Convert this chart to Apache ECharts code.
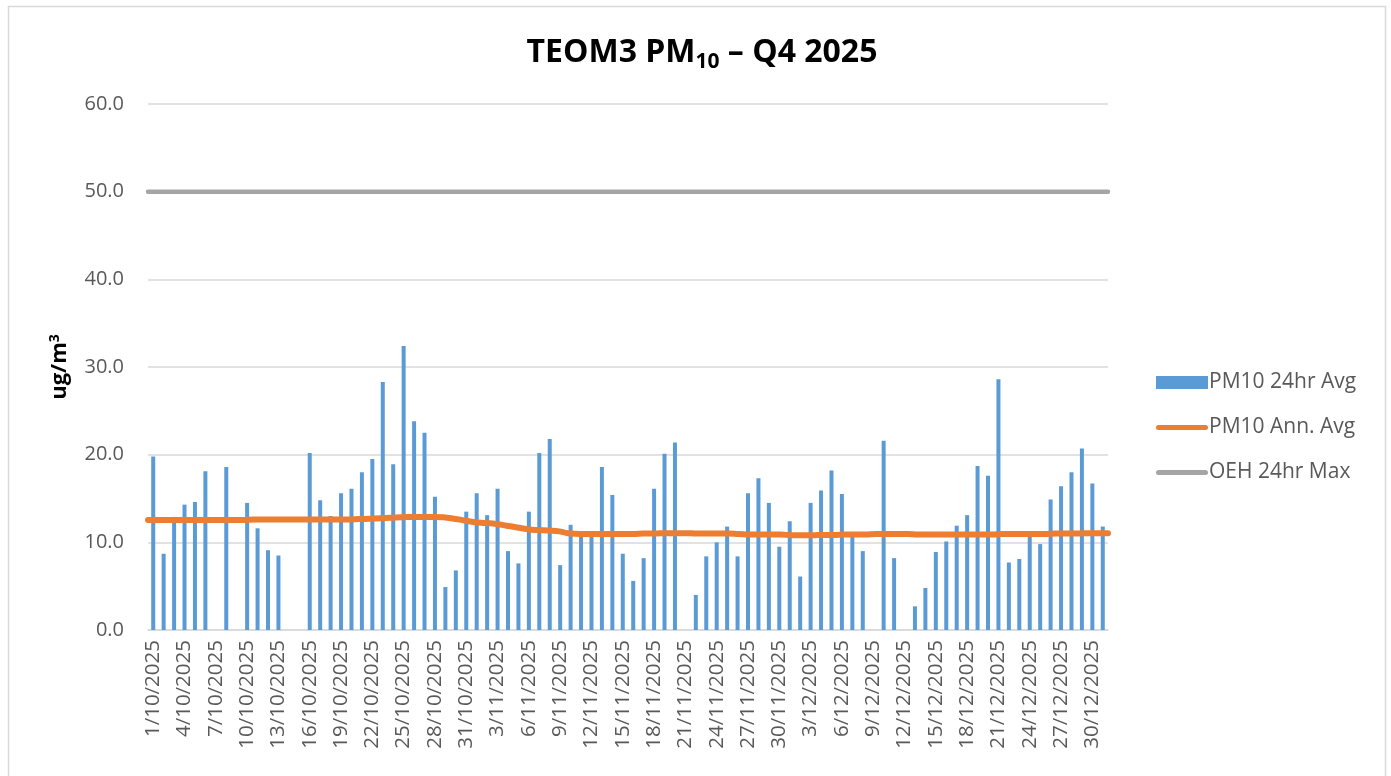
<!DOCTYPE html>
<html>
<head>
<meta charset="utf-8">
<script src="https://cdn.jsdelivr.net/npm/echarts@6/dist/echarts.min.js"></script>
<style>
  html, body { margin: 0; padding: 0; background: #fff; }
  #chart { width: 1391px; height: 776px; }
</style>
</head>
<body>
<div id="chart"></div>
<script>
// daily dates, Q4 2025
const dates = [
  '1/10/2025', '2/10/2025', '3/10/2025', '4/10/2025', '5/10/2025', '6/10/2025', '7/10/2025', '8/10/2025',
  '9/10/2025', '10/10/2025', '11/10/2025', '12/10/2025', '13/10/2025', '14/10/2025', '15/10/2025', '16/10/2025',
  '17/10/2025', '18/10/2025', '19/10/2025', '20/10/2025', '21/10/2025', '22/10/2025', '23/10/2025', '24/10/2025',
  '25/10/2025', '26/10/2025', '27/10/2025', '28/10/2025', '29/10/2025', '30/10/2025', '31/10/2025',
  '1/11/2025', '2/11/2025', '3/11/2025', '4/11/2025', '5/11/2025', '6/11/2025', '7/11/2025', '8/11/2025',
  '9/11/2025', '10/11/2025', '11/11/2025', '12/11/2025', '13/11/2025', '14/11/2025', '15/11/2025', '16/11/2025',
  '17/11/2025', '18/11/2025', '19/11/2025', '20/11/2025', '21/11/2025', '22/11/2025', '23/11/2025', '24/11/2025',
  '25/11/2025', '26/11/2025', '27/11/2025', '28/11/2025', '29/11/2025', '30/11/2025',
  '1/12/2025', '2/12/2025', '3/12/2025', '4/12/2025', '5/12/2025', '6/12/2025', '7/12/2025', '8/12/2025',
  '9/12/2025', '10/12/2025', '11/12/2025', '12/12/2025', '13/12/2025', '14/12/2025', '15/12/2025', '16/12/2025',
  '17/12/2025', '18/12/2025', '19/12/2025', '20/12/2025', '21/12/2025', '22/12/2025', '23/12/2025', '24/12/2025',
  '25/12/2025', '26/12/2025', '27/12/2025', '28/12/2025', '29/12/2025', '30/12/2025', '31/12/2025'
]

// PM10 24hr average (null = no data)
const pm10Daily = [
  19.8, 8.7, 12.9, 14.3, 14.6, 18.1, null, 18.6, null, 14.5,
  11.6, 9.1, 8.5, null, null, 20.2, 14.8, 13.0, 15.6, 16.1,
  18.0, 19.5, 28.3, 18.9, 32.4, 23.8, 22.5, 15.2, 4.9, 6.8,
  13.5, 15.6, 13.1, 16.1, 9.0, 7.6, 13.5, 20.2, 21.8, 7.4,
  12.0, 10.7, 10.7, 18.6, 15.4, 8.7, 5.6, 8.2, 16.1, 20.1,
  21.4, null, 4.0, 8.4, 10.0, 11.8, 8.4, 15.6, 17.3, 14.5,
  9.5, 12.4, 6.1, 14.5, 15.9, 18.2, 15.5, 10.7, 9.0, null,
  21.6, 8.2, null, 2.7, 4.8, 8.9, 10.1, 11.9, 13.1, 18.7,
  17.6, 28.6, 7.7, 8.1, 10.7, 9.8, 14.9, 16.4, 18.0, 20.7,
  16.7, 11.8
]

// PM10 annual (running) average
const pm10Annual = [
  12.55, 12.55, 12.55, 12.55, 12.55, 12.55, 12.55, 12.55, 12.55, 12.55,
  12.6, 12.6, 12.6, 12.6, 12.6, 12.6, 12.6, 12.6, 12.6, 12.6,
  12.65, 12.7, 12.75, 12.8, 12.85, 12.9, 12.9, 12.9, 12.85, 12.7,
  12.5, 12.3, 12.2, 12.1, 11.9, 11.7, 11.5, 11.4, 11.35, 11.25,
  11.0, 10.95, 10.95, 10.95, 10.95, 10.95, 10.95, 11.0, 11.0, 11.05,
  11.05, 11.05, 11.0, 11.0, 11.0, 11.0, 10.95, 10.9, 10.9, 10.9,
  10.9, 10.8, 10.8, 10.8, 10.85, 10.85, 10.9, 10.9, 10.9, 10.95,
  10.95, 10.95, 10.95, 10.9, 10.9, 10.9, 10.9, 10.9, 10.9, 10.9,
  10.9, 10.95, 10.95, 10.95, 10.95, 10.95, 11.0, 11.0, 11.0, 11.05,
  11.05, 11.05
]

// OEH 24hr max guideline
const oehLimit = 50

const yTicks = { min: 0, max: 60, interval: 10 }

const font = 'Open Sans'
const textGrey = '#595959'
const gridGrey = '#D9D9D9'
const lineIcon = 'path://M2.5,0 L49.5,0 A2.5,2.5 0 0 1 49.5,5 L2.5,5 A2.5,2.5 0 0 1 2.5,0 Z'

const chart = echarts.init(document.getElementById('chart'))

const option = {
  backgroundColor: '#fff',
  textStyle: { fontFamily: font },
  graphic: [{
    type: 'rect',
    shape: { x: 8.5, y: 6.5, width: 1377, height: 800 },
    style: { fill: 'none', stroke: gridGrey, lineWidth: 1.5 },
    silent: true,
    z: -1
  }],
  title: {
    text: '{t|TEOM3 PM}{s|10}{t| – Q4 2025}',
    left: 697,
    textAlign: 'center',
    top: 27,
    textStyle: {
      rich: {
        t: { fontFamily: font, fontSize: 32, fontWeight: 'bold', color: '#000' },
        s: { fontFamily: font, fontSize: 21, fontWeight: 'bold', color: '#000', verticalAlign: 'bottom', padding: [20, 0, 0, 0] }
      }
    }
  },
  legend: {
    orient: 'vertical',
    left: 1151,
    top: 367,
    itemWidth: 52,
    itemHeight: 13,
    itemGap: 24,
    symbolKeepAspect: true,
    textStyle: { fontFamily: font, fontSize: 21, lineHeight: 20, color: textGrey, padding: [0, 0, 0, -4] },
    data: [
      { name: 'PM10 24hr Avg', icon: 'rect' },
      { name: 'PM10 Ann. Avg', icon: lineIcon },
      { name: 'OEH 24hr Max', icon: lineIcon }
    ]
  },
  grid: { left: 148, right: 283, top: 104, bottom: 146 },
  xAxis: [
    {
      type: 'category',
      data: dates,
      boundaryGap: true,
      axisLine: { lineStyle: { color: gridGrey, width: 1.5 } },
      axisTick: { interval: 2, length: 7, lineStyle: { color: gridGrey, width: 1.5 } },
      axisLabel: {
        interval: 2,
        rotate: 90,
        fontFamily: font,
        fontSize: 20.5,
        color: textGrey,
        margin: 10
      }
    },
    {
      // edge-to-edge axis for the two line series
      type: 'category',
      data: dates,
      boundaryGap: false,
      show: false
    }
  ],
  yAxis: {
    type: 'value',
    min: yTicks.min,
    max: yTicks.max,
    interval: yTicks.interval,
    name: '{b|ug/m}{sup|3}',
    nameLocation: 'middle',
    nameGap: 76,
    nameRotate: 90,
    nameTextStyle: {
      rich: {
        b: { fontFamily: font, fontSize: 22, fontWeight: 'bold', color: '#000' },
        sup: { fontFamily: font, fontSize: 14, fontWeight: 'bold', color: '#000', verticalAlign: 'top', padding: [0, 0, 10, 0] }
      }
    },
    axisLine: { show: false },
    axisTick: { show: false },
    axisLabel: {
      fontFamily: font,
      fontSize: 20,
      color: textGrey,
      margin: 24,
      formatter: v => v.toFixed(1)
    },
    splitLine: { lineStyle: { color: gridGrey, width: 1.5 } }
  },
  series: [
    {
      name: 'PM10 24hr Avg',
      type: 'bar',
      data: pm10Daily,
      barWidth: 4,
      itemStyle: { color: '#5B9BD5' }
    },
    {
      name: 'PM10 Ann. Avg',
      type: 'line',
      xAxisIndex: 1,
      data: pm10Annual,
      smooth: true,
      symbol: 'none',
      lineStyle: { color: '#ED7D31', width: 6, cap: 'round' },
      itemStyle: { color: '#ED7D31' },
      z: 3
    },
    {
      name: 'OEH 24hr Max',
      type: 'line',
      xAxisIndex: 1,
      data: dates.map(() => oehLimit),
      symbol: 'none',
      lineStyle: { color: '#A5A5A5', width: 4.5, cap: 'round' },
      itemStyle: { color: '#A5A5A5' },
      z: 3
    }
  ]
}

chart.setOption(option)
window.addEventListener('resize', function() {
  chart.resize()
})
</script>
</body>
</html>
